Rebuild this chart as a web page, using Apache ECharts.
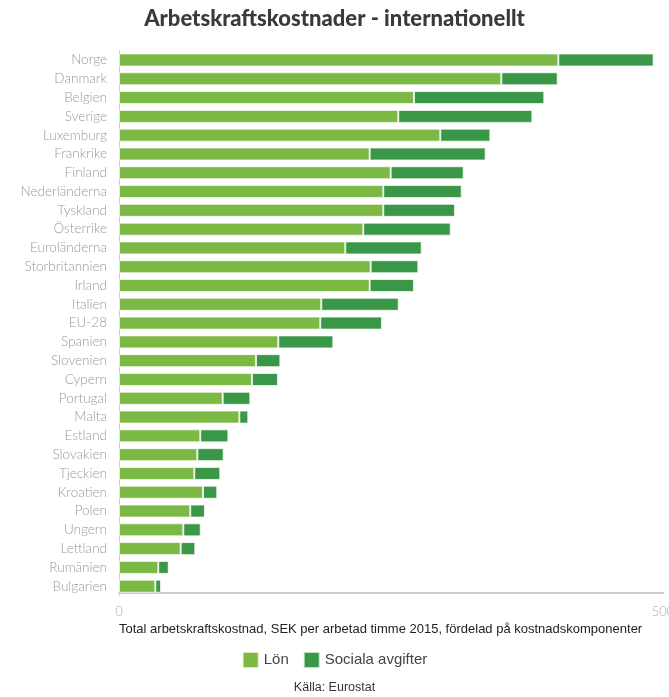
<!DOCTYPE html>
<html>
<head>
<meta charset="utf-8">
<script src="https://cdn.jsdelivr.net/npm/echarts@6/dist/echarts.min.js"></script>
<style>
html,body{margin:0;padding:0;background:#fff;}
#chart{width:669px;height:697px;}
</style>
</head>
<body>
<div id="chart"></div>
<script>
const categories = ["Norge","Danmark","Belgien","Sverige","Luxemburg","Frankrike","Finland","Nederländerna","Tyskland","Österrike","Euroländerna","Storbritannien","Irland","Italien","EU-28","Spanien","Slovenien","Cypern","Portugal","Malta","Estland","Slovakien","Tjeckien","Kroatien","Polen","Ungern","Lettland","Rumänien","Bulgarien"];
const lon = [403.8,351.4,271.1,256.7,295.3,230.4,249.7,242.9,242.9,224.5,208.0,231.3,230.4,185.9,185.0,146.4,125.9,122.2,95.3,110.6,74.7,72.0,69.2,77.2,65.5,59.1,56.7,36.1,33.4];
const sociala = [87.6,51.8,119.8,123.2,46.0,106.6,67.1,72.1,65.9,80.4,70.2,43.8,40.7,71.2,56.7,50.6,22.4,23.9,25.4,8.2,25.8,24.2,23.9,13.1,13.5,16.0,13.4,9.6,5.2];
const xTicks = [0, 500];
const seriesNames = ["Lön", "Sociala avgifter"];

const chart = echarts.init(document.getElementById('chart'), null, {renderer: 'canvas'});
chart.setOption({
  animation: false,
  backgroundColor: '#fff',
  color: ['#7cb844', '#3b9748'],
  title: [
    {text: 'Arbetskraftskostnader - internationellt', left: 'center', top: 3,
     textStyle: {fontFamily: 'Lato', fontWeight: 900, fontSize: 22, color: '#3a3a3a'}},
    {text: 'Total arbetskraftskostnad, SEK per arbetad timme 2015, fördelad på kostnadskomponenter',
     left: 114, top: 618, textStyle: {fontFamily: 'Liberation Sans, Arial, sans-serif', fontWeight: 'normal', fontSize: 13, color: '#222'}},
    {text: 'Källa: Eurostat', left: 'center', top: 676,
     textStyle: {fontFamily: 'Liberation Sans, sans-serif', fontWeight: 'normal', fontSize: 12.5, color: '#333'}}
  ],
  legend: {
    data: seriesNames, left: 'center', top: 646, itemWidth: 16, itemHeight: 16, itemGap: 14,
    icon: 'rect',
    textStyle: {fontFamily: 'Liberation Sans, sans-serif', fontSize: 15, color: '#444'}
  },
  grid: {left: 119, top: 50.6, width: 544, height: 545, containLabel: false, outerBoundsMode: 'none'},
  xAxis: {
    type: 'value', min: xTicks[0], max: xTicks[1], interval: 500, offset: -3,
    splitLine: {show: false},
    axisLine: {show: true, lineStyle: {color: '#ccc', width: 2}},
    axisTick: {show: false},
    axisLabel: {color: '#aaa', fontFamily: 'Lato', fontWeight: 300, fontSize: 13, margin: 13}
  },
  yAxis: {
    type: 'category', data: categories, inverse: true,
    axisLine: {show: true, lineStyle: {color: '#ccc', width: 1}},
    axisTick: {show: false},
    axisLabel: {color: '#999', fontFamily: 'Lato', fontWeight: 300, fontSize: 13.5, margin: 12}
  },
  series: [
    {name: seriesNames[0], type: 'bar', stack: 't', data: lon, barWidth: 13,
     itemStyle: {borderColor: 'rgba(255,255,255,0.7)', borderWidth: 1}},
    {name: seriesNames[1], type: 'bar', stack: 't', data: sociala, barWidth: 13,
     itemStyle: {borderColor: 'rgba(255,255,255,0.7)', borderWidth: 1}}
  ]
});
</script>
</body>
</html>
